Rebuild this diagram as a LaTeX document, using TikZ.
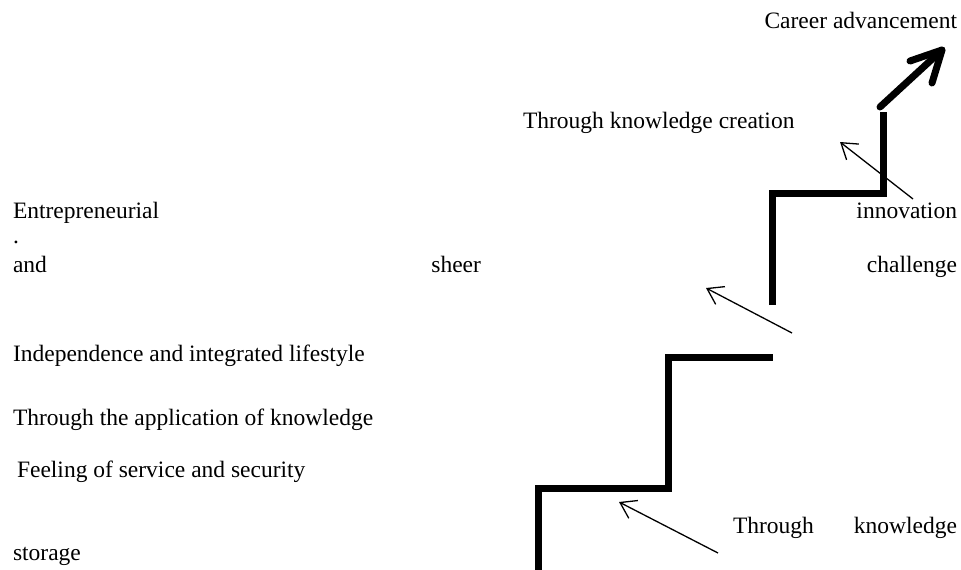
\documentclass[tikz,border=0pt]{standalone}
\usepackage{fontspec}
\setmainfont{Liberation Serif}
\usetikzlibrary{arrows.meta}
\begin{document}
\begin{tikzpicture}[x=1pt,y=-1pt,
  lbl/.style={inner sep=0pt,outer sep=0pt,font=\fontsize{23.5}{28}\selectfont},
  lw/.style={lbl,anchor=base west},
  le/.style={lbl,anchor=base east},
  stair/.style={line width=7pt,line join=miter,line cap=butt},
  thin/.style={line width=1.3pt,-{Straight Barb[length=15pt,width=20pt,line width=1.3pt]}},
  bold/.style={line width=7pt,line cap=round,line join=round}]
\useasboundingbox (0,0) rectangle (961,570);
% texts
\node[le] (career) at (957,28) {Career advancement};
\node[lw] (creation) at (523,128) {Through knowledge creation};
\node[lw] (entre) at (13,218) {Entrepreneurial};
\node[le] (innov) at (957,218) {innovation};
\node[lw] (dot) at (13,243) {.};
\node[lw] (and) at (13,272) {and};
\node[le] (sheer) at (481,272) {sheer};
\node[le] (chall) at (957,272) {challenge};
\node[lw] (indep) at (13,361) {Independence and integrated lifestyle};
\node[lw] (appl) at (13,425) {Through the application of knowledge};
\node[lw] (feel) at (17,477) {Feeling of service and security};
\node[lw] (stor) at (13,560) {storage};
\node[lw] (thr) at (733,533) {Through};
\node[le] (know) at (957,533) {knowledge};
% stairs
\coordinate (s1) at (538,572);
\coordinate (s2) at (538,488);
\coordinate (s3) at (668,488);
\coordinate (s4) at (668,357);
\coordinate (s5) at (773,357);
\draw[stair] (s1) -- (s2) -- (s3) -- (s4) -- (s5);
\coordinate (u1) at (772,305);
\coordinate (u2) at (772,193);
\coordinate (u3) at (883,193);
\coordinate (u4) at (883,112);
\draw[stair] (u1) -- (u2) -- (u3) -- (u4);
% bold arrow
\coordinate (b0) at (880,107);
\coordinate (bt) at (942,50);
\coordinate (ba) at (910,61);
\coordinate (bb) at (932,83);
\draw[bold] (b0) -- (bt);
\draw[bold] (ba) -- (bt) -- (bb);
% thin arrows
\coordinate (a1s) at (913,199);
\coordinate (a1t) at (840,142);
\draw[thin] (a1s) -- (a1t);
\coordinate (a2s) at (792,333);
\coordinate (a2t) at (706,288);
\draw[thin] (a2s) -- (a2t);
\coordinate (a3s) at (718,553);
\coordinate (a3t) at (619,502);
\draw[thin] (a3s) -- (a3t);
\end{tikzpicture}
\end{document}
